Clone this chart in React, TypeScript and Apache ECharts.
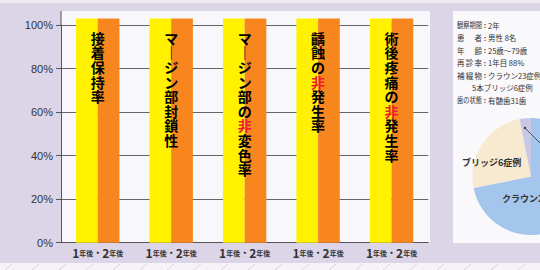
import React, { useEffect, useRef } from 'react';
import * as echarts from 'echarts';

const categories = ['接着保持率', 'マージン部封鎖性', 'マージン部の非変色率', '齲蝕の非発生率', '術後疼痛の非発生率'];
const year1 = [103, 103, 103, 103, 103];
const year2 = [103, 103, 103, 103, 103];
const yTickStep = 20;
const xLabelParts = ['1', '年後', '・', '2', '年後'];
const infoLabels = ['観察期間', '患者', '年齢', '再診率', '補綴物', '', '歯の状態'];
const infoValues = ['2年', '男性 8名', '25歳～79歳', '1年目 88%', 'クラウン23症例', '5本ブリッジ6症例', '有髄歯31歯'];
const pieNames = ['クラウン23症例', 'ブリッジ6症例', 'その他'];
const pieValues = [23, 8, 1];

const JP = '"Noto Sans CJK JP", "Noto Sans", sans-serif';

function vert(s: string): string {
  return s
    .split('')
    .map((c) => (c === 'ー' ? '{n|｜}' : c === '非' ? '{r|非}' : `{n|${c}}`))
    .join('\n');
}

export default function App() {
  const ref = useRef<HTMLDivElement>(null);
  useEffect(() => {
    if (!ref.current) return;
    const chart = echarts.init(ref.current, undefined, { renderer: 'svg' });

    const graphics: any[] = [];
    graphics.push({ type: 'rect', z: -5, shape: { x: 0, y: 0, width: 540, height: 3 }, style: { fill: '#efeaf2' } });
    graphics.push({ type: 'rect', z: -5, shape: { x: 61, y: 11, width: 369, height: 232 }, style: { fill: '#f8f7fb' } });
    graphics.push({ type: 'line', z: 5, shape: { x1: 61, y1: 11, x2: 61, y2: 25 }, style: { stroke: '#555', lineWidth: 1 } });
    graphics.push({ type: 'rect', z: -5, shape: { x: 453, y: 11, width: 100, height: 232 }, style: { fill: '#f9f8fb' } });
    graphics.push({ type: 'rect', z: -5, shape: { x: 0, y: 263, width: 540, height: 7 }, style: { fill: '#f5f3f8' } });
    for (let x = 5; x < 545; x += 27) {
      graphics.push({ type: 'line', z: -4, shape: { x1: x, y1: 270, x2: x + 7, y2: 264 }, style: { stroke: '#d9d1e5', lineWidth: 1 } });
    }
    const lineY = [25, 37.5, 50, 62.7, 75, 87.7, 100];
    const fs = 7.5;
    const labW = 25;
    infoLabels.forEach((lab, i) => {
      const y = lineY[i];
      const chars = lab.split('');
      const n = chars.length;
      if (n >= 4) {
        graphics.push({
          type: 'text', z: 10, x: 457, y, scaleX: labW / (n * fs),
          style: { text: lab, fill: '#333', font: `${fs}px ${JP}`, textAlign: 'left', textVerticalAlign: 'middle' },
        });
      } else if (n > 0) {
        chars.forEach((c, j) => {
          const x = 457 + (j * (labW - fs)) / (n - 1);
          graphics.push({
            type: 'text', z: 10, x, y,
            style: { text: c, fill: '#333', font: `${fs}px ${JP}`, textAlign: 'left', textVerticalAlign: 'middle' },
          });
        });
      }
      if (n > 0) {
        graphics.push({
          type: 'text', z: 10, x: 485, y,
          style: { text: ':', fill: '#333', font: `bold 7px ${JP}`, textAlign: 'center', textVerticalAlign: 'middle' },
        });
      }
      graphics.push({
        type: 'text', z: 10, x: n > 0 ? 488 : 472, y,
        style: { text: infoValues[i], fill: '#333', font: `${fs}px ${JP}`, textAlign: 'left', textVerticalAlign: 'middle' },
      });
    });
    graphics.push({
      type: 'text', z: 10, x: 462, y: 162,
      style: { text: pieNames[1], fill: '#333', font: `bold 9px ${JP}`, textAlign: 'left', textVerticalAlign: 'middle' },
    });
    graphics.push({
      type: 'text', z: 10, x: 502, y: 198,
      style: { text: pieNames[0], fill: '#333', font: `bold 9px ${JP}`, textAlign: 'left', textVerticalAlign: 'middle' },
    });
    graphics.push({ type: 'line', z: 10, shape: { x1: 525, y1: 128, x2: 541, y2: 144 }, style: { stroke: '#333', lineWidth: 0.8 } });
    graphics.push({ type: 'circle', z: 10, shape: { cx: 525, cy: 128, r: 1.2 }, style: { fill: '#333' } });

    const xRich = {
      b: { fontSize: 12, fontWeight: 'bold', color: '#333', fontFamily: JP },
      s: { fontSize: 7, fontWeight: 'bold', color: '#333', fontFamily: JP },
      m: { fontSize: 9, fontWeight: 'bold', color: '#333', fontFamily: JP },
    };
    const xLabelText = `{b|${xLabelParts[0]}}{s|${xLabelParts[1]}}{m|${xLabelParts[2]}}{b|${xLabelParts[3]}}{s|${xLabelParts[4]}}`;

    chart.setOption({
      animation: false,
      backgroundColor: '#dcd4e7',
      grid: { left: 61, right: 111.7, top: 25, bottom: 27.3, containLabel: false },
      xAxis: {
        type: 'category',
        data: categories,
        axisLine: { show: true, lineStyle: { color: '#555', width: 1 } },
        axisTick: { show: false },
        axisLabel: { formatter: () => xLabelText, rich: xRich, margin: 4, interval: 0, hideOverlap: false },
      },
      yAxis: {
        type: 'value',
        min: 0,
        max: 100,
        interval: yTickStep,
        axisLine: { show: true, lineStyle: { color: '#555', width: 1 } },
        axisTick: { show: true, length: 5, lineStyle: { color: '#555' } },
        splitLine: { show: true, lineStyle: { color: '#666', width: 1 } },
        axisLabel: { formatter: '{value}%', color: '#333', fontSize: 11, margin: 8, fontFamily: '"Liberation Sans", Arial, sans-serif' },
      },
      series: [
        {
          type: 'bar',
          name: '1年後',
          data: year1,
          barWidth: 21.7,
          barGap: '0%',
          clip: false,
          itemStyle: { color: '#fff100' },
          emphasis: { disabled: true },
        },
        {
          type: 'bar',
          name: '2年後',
          data: year2,
          barWidth: 21.7,
          barGap: '0%',
          clip: false,
          itemStyle: { color: '#f7861f' },
          emphasis: { disabled: true },
          label: {
            show: true,
            position: [0, 12],
            align: 'center',
            verticalAlign: 'top',
            formatter: (p: any) => vert(categories[p.dataIndex]),
            rich: {
              n: { fontSize: 14, fontWeight: 'bold', color: '#000', fontFamily: JP, lineHeight: 14.6 },
              r: { fontSize: 14, fontWeight: 'bold', color: '#ee1c25', fontFamily: JP, lineHeight: 14.6 },
            },
          },
        },
        {
          type: 'pie',
          center: [531, 176.5],
          radius: 58.5,
          startAngle: 90,
          clockwise: true,
          label: { show: false },
          labelLine: { show: false },
          emphasis: { disabled: true },
          data: pieNames.map((name, i) => ({
            name,
            value: pieValues[i],
            itemStyle: { color: ['#a4c5ec', '#f8ead0', '#c9c7e6'][i] },
          })),
        },
      ],
      graphic: graphics,
    });
    return () => chart.dispose();
  }, []);
  return <div ref={ref} style={{ position: 'fixed', left: 0, top: 0, width: 540, height: 270 }} />;
}
